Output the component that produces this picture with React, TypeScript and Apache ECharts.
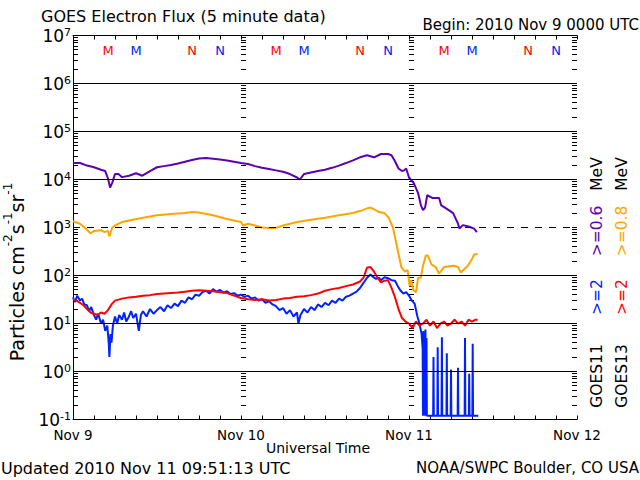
import React, { useEffect, useRef } from 'react';
import * as echarts from 'echarts';

const FONT = '"DejaVu Sans", sans-serif';

// ---- axis / label data ----
const dayLabels = ['Nov 9', 'Nov 10', 'Nov 11', 'Nov 12'];
const dayHours = [0, 24, 48, 72];
const decadeExponents = [-1, 0, 1, 2, 3, 4, 5, 6];
const tickMantissas = [1, 2, 3, 4, 5, 6, 7, 8, 9];
const solidGridValues = [1e6, 1e5, 1e4, 1e2, 1e1, 1e0];
const dashedGridValues = [1e3];

// ---- local midnight (M) / noon (N) markers, hours since Nov 9 00 UTC ----
const g13MidnightHours = [5, 29, 53];
const g11MidnightHours = [9, 33, 57];
const g13NoonHours = [17, 41, 65];
const g11NoonHours = [21, 45, 69];
const markerLevel = 5e6;

// ---- series: [hours since Nov 9 00 UTC, particles cm-2 s-1 sr-1] ----
const goes11Above06: [number, number][] = [
  [0, 2.2e4], [1, 2.2e4], [2, 1.95e4], [3, 1.8e4], [4, 1.6e4], [4.6, 1.5e4], [5, 1.05e4], [5.3, 6.8e3],
  [5.6, 8.5e3], [6, 1.3e4], [6.5, 1.3e4], [7, 1.12e4], [8, 1.2e4], [9, 1.35e4], [9.9, 1.2e4], [11, 1.5e4],
  [12, 1.8e4], [13, 1.9e4], [14, 2.0e4], [15, 2.15e4], [16, 2.35e4], [17, 2.55e4], [18, 2.75e4], [19, 2.8e4],
  [20, 2.7e4], [21, 2.6e4], [22, 2.5e4], [23, 2.35e4], [24, 2.2e4], [25, 2.1e4], [26, 1.9e4], [27, 1.75e4],
  [28, 1.65e4], [29, 1.55e4], [30, 1.45e4], [31, 1.3e4], [32, 1.1e4], [32.4, 1.0e4], [33, 1.3e4], [34, 1.4e4],
  [35, 1.5e4], [36, 1.6e4], [37, 1.75e4], [38, 1.95e4], [39, 2.2e4], [40, 2.5e4], [41, 2.9e4], [42, 3.2e4],
  [43, 2.9e4], [44, 3.4e4], [45, 3.4e4], [45.5, 3.2e4], [46, 2.4e4], [46.5, 1.7e4], [47, 1.5e4], [47.3, 1.55e4],
  [47.6, 1.7e4], [48, 1.1e4], [48.7, 8.3e3], [49.3, 5.2e3], [49.7, 2.9e3], [50, 2.3e3], [50.3, 2.6e3], [50.6, 4.7e3],
  [51.4, 4.1e3], [52.3, 4.1e3], [52.6, 2.9e3], [53.3, 2.5e3], [54.3, 2.0e3], [55, 1.2e3], [55.2, 9.5e2], [55.7, 1.12e3],
  [56.5, 1.05e3], [57.3, 9.5e2], [57.7, 8e2],
];

const goes13Above08: [number, number][] = [
  [0, 1.35e3], [1, 1.2e3], [2, 9e2], [2.5, 7.5e2], [3, 8.5e2], [4, 8.8e2], [4.5, 8e2], [5, 8.5e2], [5.2, 6.5e2],
  [5.6, 1.0e3], [6, 1.1e3], [7, 1.3e3], [8, 1.4e3], [10, 1.6e3], [12, 1.8e3], [14, 1.9e3], [16, 2.0e3], [17, 2.1e3],
  [18, 2.05e3], [20, 1.8e3], [22, 1.5e3], [24, 1.3e3], [24.3, 1.1e3], [25, 1.2e3], [26, 1.1e3], [27, 1.0e3],
  [28, 9.8e2], [29, 9.8e2], [30, 1.1e3], [32, 1.3e3], [34, 1.45e3], [36, 1.6e3], [38, 1.8e3], [40, 2.0e3],
  [41, 2.2e3], [42, 2.5e3], [42.5, 2.6e3], [43, 2.4e3], [43.7, 2.1e3], [44.5, 2.0e3], [45.1, 1.6e3], [45.7, 1.0e3],
  [46.1, 5.4e2], [46.6, 2.4e2], [46.9, 1.5e2], [47.4, 1.2e2], [47.8, 1.3e2], [48.1, 60], [48.3, 80], [48.6, 50],
  [49, 45], [49.3, 90], [49.7, 90], [50, 1.6e2], [50.4, 2.6e2], [50.7, 2.6e2], [51.2, 1.7e2], [51.8, 1.5e2],
  [52.3, 1.1e2], [53, 1.5e2], [54.4, 1.6e2], [55, 1.5e2], [55.4, 1.15e2], [56.4, 1.6e2], [57, 2.2e2], [57.3, 2.75e2],
  [57.8, 2.8e2],
];

const goes13Above2: [number, number][] = [
  [0, 32], [0.5, 30], [1, 27], [1.5, 24], [2, 20], [2.5, 17], [3, 16], [3.5, 15], [4, 17], [4.5, 16], [5, 19],
  [5.5, 25], [6, 30], [7, 33], [8, 35], [9, 36], [10, 38], [11, 39], [12, 41], [13, 42], [14, 43], [15, 44],
  [16, 46], [17, 48], [18, 49], [19, 48], [20, 47], [21, 45], [22, 43], [23, 38], [24, 34], [25, 32], [26, 31],
  [27, 32], [28, 30], [29, 31], [30, 33], [31, 34], [32, 36], [33, 37], [34, 39], [35, 42], [36, 48], [37, 52],
  [38, 55], [39, 60], [40, 65], [41, 75], [41.5, 90], [42, 1.45e2], [42.5, 1.5e2], [43, 1.2e2], [43.5, 90],
  [44, 72], [44.5, 78], [45, 80], [45.5, 55], [46, 35], [46.5, 20], [47, 13], [47.5, 11], [48, 10], [48.5, 8],
  [49, 11], [49.5, 9], [50, 10], [50.5, 12], [51, 9], [51.5, 11], [52, 8], [52.5, 10], [53, 11], [53.5, 9],
  [54, 10], [54.5, 12], [55, 10], [55.5, 11], [56, 9], [56.5, 12], [57, 11], [57.5, 12], [57.8, 12],
];

const goes11Above2: [number, number][] = [
  [0, 35], [0.3, 28], [0.6, 38], [1, 30], [1.3, 33], [1.6, 25], [2, 24], [2.3, 18], [2.6, 22], [3, 15], [3.3, 12],
  [3.6, 16], [4, 10], [4.3, 12], [4.6, 7], [4.9, 9], [5.1, 4], [5.2, 2], [5.35, 6], [5.5, 4], [5.7, 9], [6, 14],
  [6.3, 10], [6.6, 15], [7, 12], [7.3, 17], [7.6, 11], [8, 14], [8.3, 18], [8.6, 13], [9, 16], [9.4, 7], [9.7, 15],
  [10, 18], [10.5, 14], [11, 20], [11.5, 16], [12, 19], [12.5, 22], [13, 18], [13.5, 24], [14, 21], [14.5, 26],
  [15, 23], [15.5, 30], [16, 27], [16.5, 35], [17, 32], [17.5, 40], [18, 38], [18.5, 45], [19, 48], [19.5, 42],
  [20, 52], [20.5, 46], [21, 50], [21.5, 44], [22, 47], [22.5, 41], [23, 43], [23.5, 38], [24, 40], [24.5, 36],
  [25, 38], [25.5, 33], [26, 35], [26.5, 30], [27, 32], [27.5, 27], [28, 29], [28.5, 25], [29, 23], [29.5, 19],
  [30, 21], [30.5, 16], [31, 19], [31.5, 14], [32, 17], [32.2, 10], [32.5, 15], [33, 20], [33.5, 17], [34, 22],
  [34.5, 19], [35, 25], [35.5, 22], [36, 27], [36.5, 24], [37, 30], [37.5, 27], [38, 33], [38.5, 30], [39, 36],
  [39.5, 38], [40, 42], [40.5, 46], [41, 55], [41.5, 70], [42, 90], [42.5, 1.05e2], [42.8, 95], [43.3, 85],
  [43.7, 90], [44, 80], [44.5, 92], [45, 88], [45.5, 80], [46, 78], [46.4, 60], [46.8, 48], [47.2, 42], [47.6, 45],
  [48, 38], [48.4, 30], [48.8, 26], [49.2, 14], [49.5, 10], [49.8, 6], [49.95, 3], [50.0, 0.12], [50.05, 7],
  [50.1, 0.12], [50.2, 6], [50.25, 0.12], [50.35, 7.5], [50.4, 0.12], [50.5, 5], [50.55, 0.12], [51.45, 0.12],
  [51.5, 2], [51.55, 0.12], [52.05, 0.12], [52.1, 3.2], [52.15, 0.12], [52.65, 0.12], [52.7, 5.2], [52.75, 0.12],
  [53.35, 0.12], [53.4, 2.4], [53.45, 0.12], [53.95, 0.12], [54, 1.1], [54.05, 0.12], [54.95, 0.12], [55, 1.2],
  [55.05, 0.12], [55.95, 0.12], [56, 5], [56.05, 0.12], [56.55, 0.12], [56.6, 0.9], [56.65, 0.12], [57.05, 0.12],
  [57.1, 3.8], [57.15, 0.12], [57.9, 0.12],
];

export default function App() {
  const ref = useRef<HTMLDivElement>(null);

  useEffect(() => {
    if (!ref.current) return;
    const chart = echarts.init(ref.current, undefined, { renderer: 'svg' });

    // log minor ticks along left axis, right axis and the day boundaries
    const tickData: number[][] = [];
    dayHours.forEach((h, i) => {
      const dir = i === dayHours.length - 1 ? -1 : 1;
      decadeExponents.forEach((e) => {
        tickMantissas.forEach((m) => {
          tickData.push([h, m * Math.pow(10, e), dir]);
        });
      });
      tickData.push([h, 1e7, dir]);
    });

    const markerSeries = (hours: number[], letter: string, color: string) => ({
      type: 'custom',
      silent: true,
      clip: false,
      z: 5,
      data: hours.map((h) => [h, markerLevel]),
      renderItem: (_params: any, api: any) => {
        const p = api.coord([api.value(0), api.value(1)]);
        return {
          type: 'text',
          x: Math.round(p[0]),
          y: Math.round(p[1]),
          style: {
            text: letter,
            fill: color,
            fontSize: 13,
            fontFamily: FONT,
            align: 'center',
            verticalAlign: 'middle',
          },
        };
      },
    });

    const lineSeries = (data: [number, number][], color: string, z: number) => ({
      type: 'line',
      data,
      showSymbol: false,
      symbol: 'none',
      lineStyle: { color, width: 2 },
      itemStyle: { color },
      z,
    });

    const option: any = {
      animation: false,
      backgroundColor: '#fff',
      grid: { left: 73, top: 35.5, width: 504, height: 384, containLabel: false },
      xAxis: [
        {
          type: 'value',
          min: 0,
          max: 72,
          interval: 24,
          position: 'bottom',
          axisLine: { show: true, lineStyle: { color: '#000', width: 1 } },
          axisTick: { show: true, inside: true, length: 4, lineStyle: { color: '#000' } },
          minorTick: { show: true, splitNumber: 8, length: 4, lineStyle: { color: '#000' } },
          splitLine: { show: false },
          axisLabel: {
            margin: 8,
            color: '#000',
            fontSize: 13.5,
            fontFamily: FONT,
            formatter: (v: number) => dayLabels[Math.round(v / 24)] ?? '',
          },
        },
        {
          type: 'value',
          min: 0,
          max: 72,
          interval: 24,
          position: 'top',
          axisLine: { show: true, lineStyle: { color: '#000', width: 1 } },
          axisTick: { show: true, inside: true, length: 4, lineStyle: { color: '#000' } },
          minorTick: { show: true, splitNumber: 8, length: 4, lineStyle: { color: '#000' } },
          splitLine: { show: false },
          axisLabel: { show: false },
        },
      ],
      yAxis: [
        {
          type: 'log',
          logBase: 10,
          min: 0.1,
          max: 1e7,
          splitNumber: 8,
          position: 'left',
          axisLine: { show: true, lineStyle: { color: '#000', width: 1 } },
          axisTick: { show: false },
          splitLine: { show: false },
          axisLabel: {
            margin: 2,
            formatter: (v: number) => `{b|10}{s|${Math.round(Math.log10(v))}}`,
            rich: {
              b: { fontSize: 17, fontFamily: FONT, color: '#000', lineHeight: 18, verticalAlign: 'bottom' },
              s: { fontSize: 11, fontFamily: FONT, color: '#000', lineHeight: 10, verticalAlign: 'top' },
            },
          },
        },
        {
          type: 'log',
          logBase: 10,
          min: 0.1,
          max: 1e7,
          splitNumber: 8,
          position: 'right',
          axisLine: { show: true, lineStyle: { color: '#000', width: 1 } },
          axisTick: { show: false },
          splitLine: { show: false },
          axisLabel: { show: false },
        },
      ],
      series: [
        {
          type: 'line',
          data: [],
          silent: true,
          z: 1,
          markLine: {
            silent: true,
            symbol: ['none', 'none'],
            label: { show: false },
            animation: false,
            data: [
              ...solidGridValues.map((v) => ({ yAxis: v, lineStyle: { type: 'solid', color: '#000', width: 1 } })),
              ...dashedGridValues.map((v) => ({ yAxis: v, lineStyle: { type: [7, 7], color: '#000', width: 1 } })),
            ],
          },
        },
        {
          type: 'custom',
          silent: true,
          z: 2,
          clip: false,
          data: tickData,
          renderItem: (_params: any, api: any) => {
            const p = api.coord([api.value(0), api.value(1)]);
            const dir = api.value(2);
            const x = Math.round(p[0]);
            const y = Math.round(p[1] - 0.5) + 0.5;
            const x1 = dir > 0 ? x : x - 5;
            return {
              type: 'line',
              shape: { x1, y1: y, x2: x1 + 5, y2: y },
              style: { stroke: '#000', lineWidth: 1 },
            };
          },
        },
        lineSeries(goes11Above2, '#0022ff', 3),
        lineSeries(goes13Above2, '#ff0000', 4),
        lineSeries(goes13Above08, '#ffa500', 4),
        lineSeries(goes11Above06, '#5c00b0', 4),
        markerSeries(g13MidnightHours, 'M', '#ff0000'),
        markerSeries(g11MidnightHours, 'M', '#0022ff'),
        markerSeries(g13NoonHours, 'N', '#ff0000'),
        markerSeries(g11NoonHours, 'N', '#0022ff'),
      ],
      graphic: [
        {
          type: 'text', x: 41, y: 16,
          style: { text: 'GOES Electron Flux (5 minute data)', fontSize: 16, lineHeight: 14, fontFamily: FONT, fill: '#000', align: 'left', verticalAlign: 'middle' },
        },
        {
          type: 'text', x: 639, y: 25,
          style: { text: 'Begin: 2010 Nov 9 0000 UTC', fontSize: 15, lineHeight: 14, fontFamily: FONT, fill: '#000', align: 'right', verticalAlign: 'middle' },
        },
        {
          type: 'text', x: 318, y: 448,
          style: { text: 'Universal Time', fontSize: 14, fontFamily: FONT, fill: '#000', align: 'center', verticalAlign: 'middle' },
        },
        {
          type: 'text', x: 1, y: 468,
          style: { text: 'Updated 2010 Nov 11 09:51:13 UTC', fontSize: 16, fontFamily: FONT, fill: '#000', align: 'left', verticalAlign: 'middle' },
        },
        {
          type: 'text', x: 639, y: 468,
          style: { text: 'NOAA/SWPC Boulder, CO USA', fontSize: 15, fontFamily: FONT, fill: '#000', align: 'right', verticalAlign: 'middle' },
        },
        {
          type: 'text', x: 14, y: 272, rotation: Math.PI / 2,
          style: {
            text: '{n|Particles cm}{s|-2}{n|s}{s|-1}{n|sr}{s|-1}',
            align: 'center', verticalAlign: 'middle', fill: '#000',
            rich: {
              n: { fontSize: 19, fontFamily: FONT, fill: '#000', lineHeight: 24, verticalAlign: 'bottom' },
              s: { fontSize: 12, fontFamily: FONT, fill: '#000', lineHeight: 13, verticalAlign: 'top' },
            },
          },
        },
        // right-hand legend, column GOES11
        { type: 'text', x: 597, y: 376, rotation: Math.PI / 2, style: { text: 'GOES11', fontSize: 15.5, fontFamily: FONT, fill: '#000', align: 'center', verticalAlign: 'middle' } },
        { type: 'text', x: 597, y: 297, rotation: Math.PI / 2, style: { text: '>=2', fontSize: 15.5, fontFamily: FONT, fill: '#0022ff', align: 'center', verticalAlign: 'middle' } },
        { type: 'text', x: 597, y: 231, rotation: Math.PI / 2, style: { text: '>=0.6', fontSize: 15.5, fontFamily: FONT, fill: '#5c00b0', align: 'center', verticalAlign: 'middle' } },
        { type: 'text', x: 597, y: 174, rotation: Math.PI / 2, style: { text: 'MeV', fontSize: 15.5, fontFamily: FONT, fill: '#000', align: 'center', verticalAlign: 'middle' } },
        // column GOES13
        { type: 'text', x: 622, y: 376, rotation: Math.PI / 2, style: { text: 'GOES13', fontSize: 15.5, fontFamily: FONT, fill: '#000', align: 'center', verticalAlign: 'middle' } },
        { type: 'text', x: 622, y: 297, rotation: Math.PI / 2, style: { text: '>=2', fontSize: 15.5, fontFamily: FONT, fill: '#ff0000', align: 'center', verticalAlign: 'middle' } },
        { type: 'text', x: 622, y: 231, rotation: Math.PI / 2, style: { text: '>=0.8', fontSize: 15.5, fontFamily: FONT, fill: '#ffa500', align: 'center', verticalAlign: 'middle' } },
        { type: 'text', x: 622, y: 174, rotation: Math.PI / 2, style: { text: 'MeV', fontSize: 15.5, fontFamily: FONT, fill: '#000', align: 'center', verticalAlign: 'middle' } },
      ],
    };

    chart.setOption(option);
    return () => chart.dispose();
  }, []);

  return (
    <div
      ref={ref}
      style={{ position: 'fixed', left: 0, top: 0, width: 640, height: 480, background: '#fff' }}
    />
  );
}
